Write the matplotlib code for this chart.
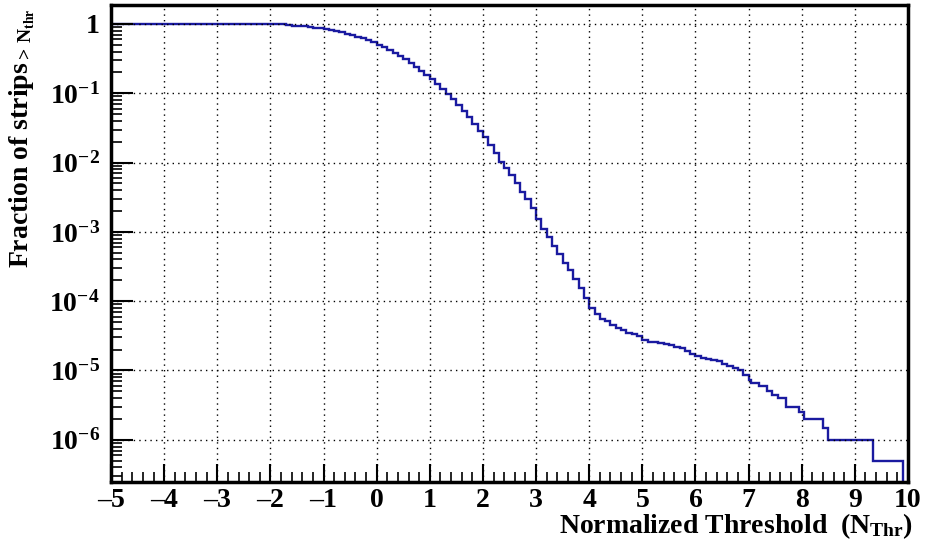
import numpy as np
import matplotlib.pyplot as plt
from matplotlib.ticker import FixedLocator, FuncFormatter, MultipleLocator

# fraction of strips above threshold, left bin edges and contents
flat_edges = [-5.0]
flat_frac = [1.0]

fine_edges = np.round(np.arange(-1.7, 7.0001, 0.1), 2)
fine_frac = [
    0.955, 0.945, 0.933, 0.919, 0.903, 0.885, 0.864, 0.841, 0.816, 0.788,
    0.758, 0.726, 0.691, 0.655, 0.618, 0.579, 0.540, 0.500, 0.460, 0.421,
    0.382, 0.345, 0.309, 0.274, 0.242, 0.212, 0.184, 0.162, 0.138, 0.117,
    0.0985, 0.0820, 0.0675, 0.0553, 0.0450, 0.0362, 0.0290, 0.0234, 0.0182, 0.0138,
    0.0102, 0.0083, 0.0066, 0.0051, 0.0038, 0.0030, 0.0022, 0.00155, 0.0011, 8.3e-4,
    6.3e-4, 4.8e-4, 3.6e-4, 2.8e-4, 2.1e-4, 1.55e-4, 1.1e-4, 7.9e-5, 6.6e-5, 5.6e-5,
    5.1e-5, 4.5e-5, 4.1e-5, 3.8e-5, 3.5e-5, 3.4e-5, 3.1e-5, 2.8e-5, 2.6e-5, 2.57e-5,
    2.5e-5, 2.45e-5, 2.3e-5, 2.2e-5, 2.1e-5, 1.9e-5, 1.74e-5, 1.62e-5, 1.51e-5, 1.45e-5,
    1.41e-5, 1.35e-5, 1.26e-5, 1.17e-5, 1.1e-5, 1.0e-5, 8.7e-6, 7.4e-6,
]

tail_edges = [7.05, 7.2, 7.35, 7.45, 7.55, 7.7, 7.95, 8.05, 8.4, 8.5, 9.35]
tail_frac = [6.5e-6, 6.0e-6, 5.0e-6, 4.5e-6, 4.0e-6, 3.0e-6, 2.5e-6, 2.0e-6, 1.5e-6, 1.0e-6, 5.0e-7]
last_edge = 9.9

edges = np.concatenate([flat_edges, fine_edges, tail_edges, [last_edge]])
frac = np.concatenate([flat_frac, fine_frac, tail_frac])

plt.rcParams["font.family"] = "Liberation Serif"
plt.rcParams["font.weight"] = "bold"
plt.rcParams["mathtext.fontset"] = "custom"
plt.rcParams["mathtext.rm"] = "Liberation Serif:bold"
plt.rcParams["mathtext.it"] = "Liberation Serif:bold"
plt.rcParams["mathtext.bf"] = "Liberation Serif:bold"

fig = plt.figure(figsize=(9.25, 5.5), dpi=100)
ax = fig.add_axes([0.12, 0.1236, 0.8616, 0.8674])

ax.stairs(frac, edges, baseline=1e-9, color="#1a1aa0", linewidth=1.7)

ax.set_yscale("log")
ax.set_xlim(-5, 10)
ax.set_ylim(2.46e-7, 1.88)

ax.xaxis.set_major_locator(MultipleLocator(1))
ax.xaxis.set_minor_locator(MultipleLocator(0.2))
ax.yaxis.set_major_locator(FixedLocator([10.0 ** k for k in range(-6, 1)]))
ax.yaxis.set_minor_locator(FixedLocator(
    [m * 10.0 ** k for k in range(-7, 1) for m in range(2, 10)]))


def ylab(v, pos):
    k = int(round(np.log10(v)))
    return "1" if k == 0 else r"$10^{%d}$" % k


def xlab(v, pos):
    return "%d" % v if v >= 0 else "\u2013%d" % -v


ax.yaxis.set_major_formatter(FuncFormatter(ylab))
ax.yaxis.set_minor_formatter(FuncFormatter(lambda v, p: ""))
ax.xaxis.set_major_formatter(FuncFormatter(xlab))

ax.tick_params(axis="both", which="both", direction="in", labelsize=20, colors="black")
ax.tick_params(axis="y", which="major", length=16, width=1.5, pad=8)
ax.tick_params(axis="y", which="minor", length=8, width=1.2)
ax.tick_params(axis="x", which="major", length=13, width=1.5, pad=4)
ax.tick_params(axis="x", which="minor", length=7, width=1.2)

ax.grid(True, which="major", color="black", linestyle=(0, (1, 3)), linewidth=1.0)

for side in ax.spines.values():
    side.set_linewidth(2.5)

fig.text(0.987, 0.03, r"Normalized Threshold  (N$_{Thr}$)", ha="right",
         va="baseline", fontsize=20, fontweight="bold")
fig.text(0.024, 0.985, r"Fraction of strips$_{>\,N_{thr}}$", rotation=90,
         ha="center", va="top", fontsize=20, fontweight="bold")

fig.savefig("out.png", dpi=100)
